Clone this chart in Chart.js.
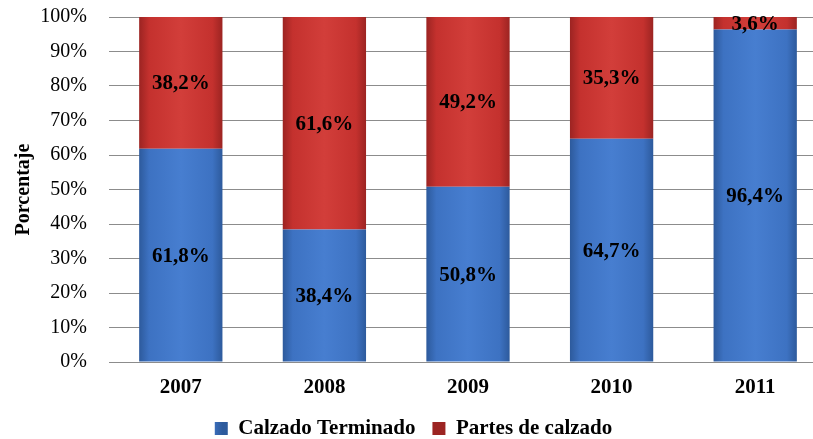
<!DOCTYPE html>
<html>
<head>
<meta charset="utf-8">
<script src="https://cdn.jsdelivr.net/npm/chart.js@4.4.1/dist/chart.umd.min.js"></script>
<style>
  html, body { margin: 0; padding: 0; background: #fff; overflow: hidden; }
  #wrap { width: 827px; height: 439px; }
</style>
</head>
<body>
<div id="wrap"><canvas id="grafico" width="827" height="439"></canvas></div>
<script>
// Datos
const anios = ["2007", "2008", "2009", "2010", "2011"];
const calzadoTerminado = [61.8, 38.4, 50.8, 64.7, 96.4];
const partesCalzado = [38.2, 61.6, 49.2, 35.3, 3.6];
const ticksY = [0, 10, 20, 30, 40, 50, 60, 70, 80, 90, 100];

const fuente = "'Liberation Serif', 'Times New Roman', serif";
const anchoBarra = 0.58;

// Degradado horizontal para cada barra
function degradado(oscuro, medio, claro) {
  return function (c) {
    const chart = c.chart;
    const x = chart.scales.x;
    if (c.dataIndex === undefined || !x || !chart.chartArea) return medio;
    const centro = x.getPixelForValue(c.dataIndex);
    const mitad = (x.width / anios.length) * anchoBarra / 2;
    const g = chart.ctx.createLinearGradient(centro - mitad, 0, centro + mitad, 0);
    g.addColorStop(0, oscuro);
    g.addColorStop(0.12, medio);
    g.addColorStop(0.5, claro);
    g.addColorStop(0.88, medio);
    g.addColorStop(1, oscuro);
    return g;
  };
}

// Etiquetas de valor dentro de las barras
const etiquetas = {
  id: 'etiquetas',
  afterDatasetsDraw(chart) {
    const ctx = chart.ctx;
    ctx.save();
    ctx.font = "bold 21px " + fuente;
    ctx.fillStyle = '#000';
    ctx.textAlign = 'center';
    ctx.textBaseline = 'middle';
    chart.data.datasets.forEach((ds, i) => {
      chart.getDatasetMeta(i).data.forEach((bar, j) => {
        const p = bar.getProps(['x', 'y', 'base'], true);
        const texto = ds.data[j].toFixed(1).replace('.', ',') + '%';
        ctx.fillText(texto, p.x, (p.y + p.base) / 2 + 1);
      });
    });
    ctx.restore();
  }
};

new Chart(document.getElementById('grafico'), {
  type: 'bar',
  data: {
    labels: anios,
    datasets: [
      {
        label: 'Calzado Terminado',
        data: calzadoTerminado,
        backgroundColor: degradado('#2d5a9c', '#3d72c2', '#477ed0'),
        borderWidth: 0,
        barPercentage: anchoBarra,
        categoryPercentage: 1
      },
      {
        label: 'Partes de calzado',
        data: partesCalzado,
        backgroundColor: degradado('#9c2422', '#c4312e', '#d23e3a'),
        borderWidth: 0,
        barPercentage: anchoBarra,
        categoryPercentage: 1
      }
    ]
  },
  options: {
    responsive: false,
    animation: false,
    layout: { padding: 0 },
    plugins: {
      tooltip: { enabled: false },
      legend: {
        position: 'bottom',
        maxHeight: 38,
        labels: {
          color: '#000',
          boxWidth: 13,
          boxHeight: 13,
          padding: 17,
          font: { family: fuente, size: 21, weight: 'bold' }
        }
      }
    },
    scales: {
      x: {
        stacked: true,
        grid: { display: false, drawTicks: false },
        border: { display: false },
        ticks: {
          color: '#000',
          padding: 13,
          font: { family: fuente, size: 21, weight: 'bold' }
        },
        afterFit(s) { s.height = 39; }
      },
      y: {
        stacked: true,
        min: 0,
        max: 100,
        grid: { color: '#8c8c8c', lineWidth: 1, drawTicks: false },
        border: { display: false },
        ticks: {
          stepSize: 10,
          padding: 22,
          color: '#000',
          font: { family: fuente, size: 20 },
          callback: v => ticksY.includes(v) ? v + '%' : ''
        },
        title: {
          display: true,
          text: 'Porcentaje',
          color: '#000',
          padding: { top: 12, bottom: 0 },
          font: { family: fuente, size: 20, weight: 'bold' }
        },
        afterFit(s) { s.width = 109; s.paddingTop = 17; s.paddingBottom = 0; }
      }
    }
  },
  plugins: [etiquetas]
});
</script>
</body>
</html>
